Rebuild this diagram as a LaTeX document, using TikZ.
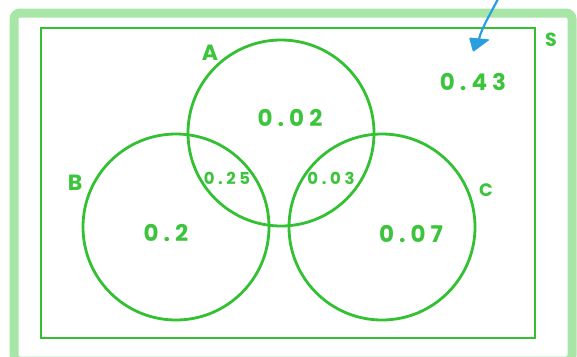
\documentclass[tikz,border=0pt]{standalone}
\usepackage{fontspec}
\newfontfamily\handfont[LetterSpace=22]{Poppins}
\newfontfamily\handlab{Poppins}
\usetikzlibrary{arrows.meta}
\definecolor{framegreen}{HTML}{A8E6A8}
\definecolor{linegreen}{HTML}{33C033}
\definecolor{textgreen}{HTML}{3CC43C}
\definecolor{arrowblue}{HTML}{2B9EE0}
\tikzset{
  setcircle/.style={circle, draw=linegreen, line width=2.8pt, minimum size=186pt, inner sep=0pt},
  bignum/.style={text=textgreen, inner sep=0pt, font=\handfont\bfseries\fontsize{23}{23}\selectfont},
  smallnum/.style={text=textgreen, inner sep=0pt, font=\handfont\bfseries\fontsize{16.5}{17}\selectfont},
  setlabel/.style={text=textgreen, inner sep=0pt, font=\handlab\bfseries\fontsize{22}{22}\selectfont},
}
\begin{document}
\begin{tikzpicture}[x=1pt, y=-1pt]
\useasboundingbox (0,0) rectangle (577,356);
\clip (0,0) rectangle (577,356);
% outer frame
\draw[framegreen, line width=9pt, rounded corners=6pt] (14,13) rectangle (572,361);
% universal set
\draw[linegreen, line width=2.8pt] (41,28) rectangle (535,338);
% circles
\node[setcircle] (A) at (281,133) {};
\node[setcircle] (B) at (176,227) {};
\node[setcircle] (C) at (382,227) {};
% set labels
\node[setlabel] (labA) at (210,53) {A};
\node[setlabel] (labB) at (75,183) {B};
\node[setlabel, font=\handlab\bfseries\fontsize{18}{18}\selectfont] (labC) at (486,190) {C};
\node[setlabel, font=\handlab\bfseries\fontsize{19}{19}\selectfont] (labS) at (551,40) {S};
% probabilities
\node[bignum] (pA) at (290,118) {0.02};
\node[smallnum] (pAB) at (227,178) {0.25};
\node[smallnum] (pAC) at (331,178) {0.03};
\node[bignum] (pB) at (166,233) {0.2};
\node[bignum] (pC) at (411,234) {0.07};
\node[bignum] (pS) at (473,82) {0.43};
% blue arrow
\coordinate (arrowstart) at (499,-3);
\coordinate (arrowbase) at (479,39);
\coordinate (arrowtip) at (473,52);
\draw[arrowblue, line width=2.2pt, line cap=round]
  (arrowstart) .. controls (491,13) and (482,27) .. (arrowbase);
\fill[arrowblue, rounded corners=1pt] (469,37.5) -- (490,39.5) -- (arrowtip) -- cycle;
\end{tikzpicture}
\end{document}
